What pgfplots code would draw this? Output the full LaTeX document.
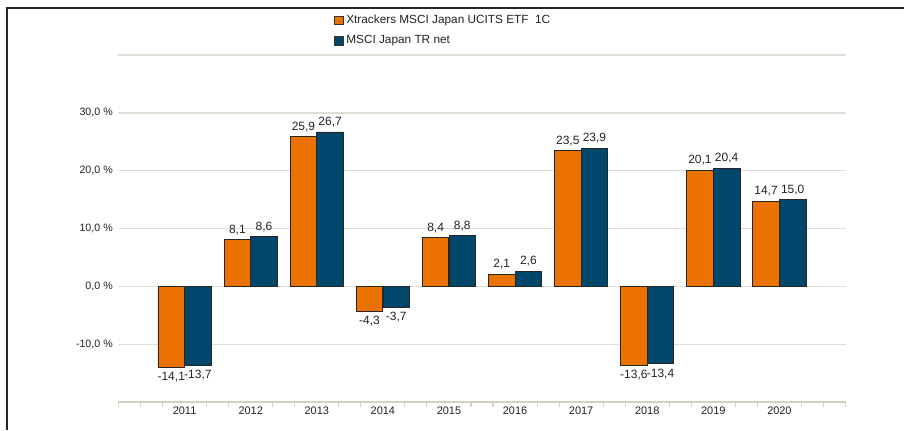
\documentclass[border=0pt]{standalone}
\usepackage{fontspec}
\setmainfont{Liberation Sans}
\usepackage{pgfplots}
\pgfplotsset{compat=1.18}
\definecolor{orangebar}{RGB}{236,114,0}
\definecolor{bluebar}{RGB}{0,71,107}
\definecolor{gridc}{RGB}{224,221,214}
\definecolor{axisc}{RGB}{214,208,194}
\definecolor{txt}{RGB}{34,34,34}
\begin{document}
\begin{tikzpicture}
\useasboundingbox (0,0) rectangle (678pt,322.5pt);
\draw[line width=1.3pt, black!85] (5.25pt,0) -- (5.25pt,316.5pt) -- (678pt,316.5pt);
\begin{axis}[
  at={(88.875pt,21pt)}, anchor=south west,
  scale only axis, width=545.25pt, height=260.25pt,
  xmin=-1, xmax=10, ymin=-20, ymax=40,
  ybar, bar width=19.9pt,
  axis x line*=bottom, axis y line*=left,
  y axis line style={draw=none},
  x axis line style={-, draw=axisc, line width=1.5pt},
  xtick={0,...,9},
  xticklabels={2011,2012,2013,2014,2015,2016,2017,2018,2019,2020},
  major x tick style={draw=none},
  minor xtick={-1,-0.6667,-0.3333,0.3333,0.6667,1.3333,1.6667,2.3333,2.6667,3.3333,3.6667,4.3333,4.6667,5.3333,5.6667,6.3333,6.6667,7.3333,7.6667,8.3333,8.6667,9.3333,9.6667,10},
  minor x tick style={draw=axisc, line width=0.8pt},
  minor tick length=4pt,
  tick align=outside,
  ytick={-10,0,10,20,30},
  ytick style={draw=none},
  ymajorgrids, grid style={draw=gridc, line width=1pt},
  extra y ticks={40}, extra y tick labels={},
  extra y tick style={grid=major, tick style={draw=none}},
  yticklabel={\pgfmathprintnumber{\tick}~\%},
  /pgf/number format/fixed,
  /pgf/number format/fixed zerofill,
  /pgf/number format/precision=1,
  /pgf/number format/use comma,
  /pgf/number format/assume math mode=true,
  ticklabel style={font=\fontsize{8}{9}\selectfont, text=txt},
  yticklabel style={xshift=3.5pt},
  xticklabel style={yshift=4.5pt, font=\fontsize{8.2}{9}\selectfont},
  nodes near coords,
  nodes near coords align=vertical,
  every node near coord/.append style={font=\fontsize{9}{10}\selectfont, text=txt},
  legend style={at={(0.2965,1.124)}, anchor=north west, draw=none, fill=none,
    font=\fontsize{8.85}{10}\selectfont, text=txt, row sep=3.6pt, inner sep=0pt,
    cells={anchor=west}},
  legend cell align=left,
  legend image code/.code={\draw[#1, draw=black!80, line width=0.5pt] (0pt,-3.2pt) rectangle (6.5pt,3.2pt);},
]
\addplot[fill=orangebar, draw=black!85, line width=0.6pt, bar shift=-10pt] coordinates {
  (0,-14.1) (1,8.1) (2,25.9) (3,-4.3) (4,8.4) (5,2.1) (6,23.5) (7,-13.6) (8,20.1) (9,14.7)};
\addplot[fill=bluebar, draw=black!85, line width=0.6pt, bar shift=10pt] coordinates {
  (0,-13.7) (1,8.6) (2,26.7) (3,-3.7) (4,8.8) (5,2.6) (6,23.9) (7,-13.4) (8,20.4) (9,15.0)};
\legend{Xtrackers MSCI Japan UCITS ETF\ \ 1C, MSCI Japan TR net}
\end{axis}
\end{tikzpicture}
\end{document}
